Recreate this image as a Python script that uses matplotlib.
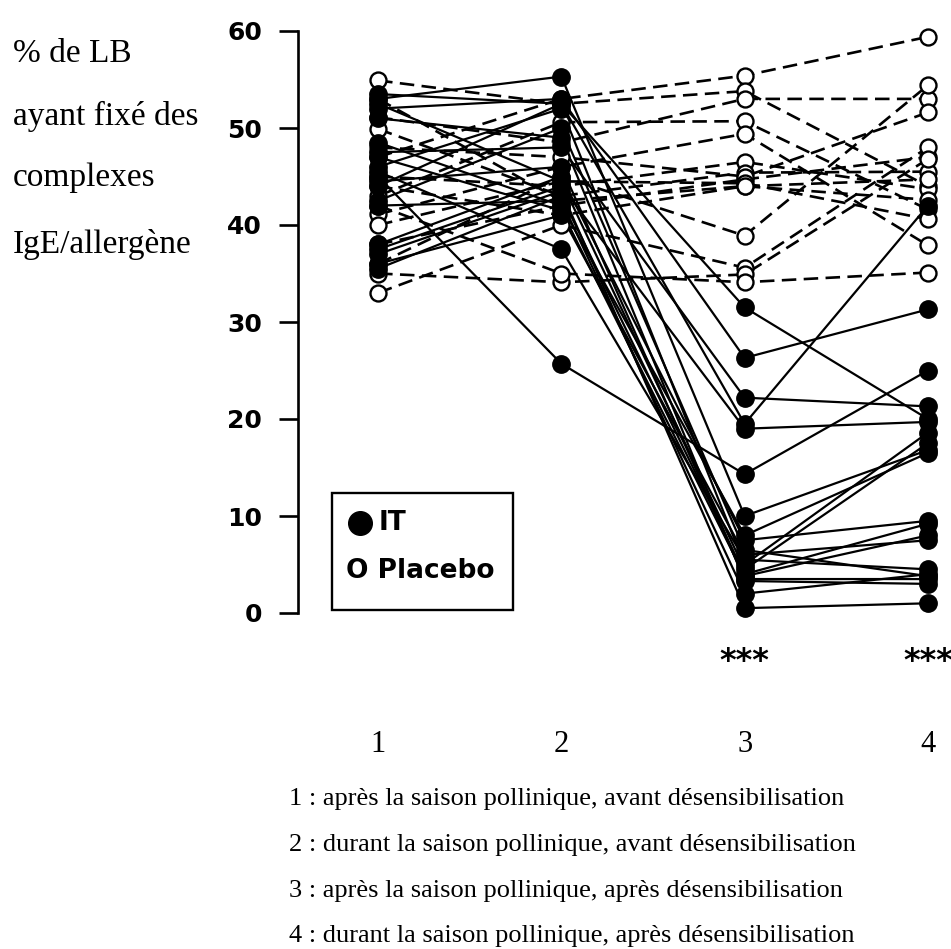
import numpy as np
import matplotlib.pyplot as plt
from matplotlib.patches import Rectangle
from matplotlib.lines import Line2D

# temps de mesure
temps = [1, 2, 3, 4]
etiquettes_temps = ['1', '2', '3', '4']

# IT (traitement) : une liste par patient, valeurs aux temps 1..4
it_t1 = [53.5, 45.0, 52.0, 47.5, 44.0, 37.5, 53.0, 48.5, 38.0, 42.5, 36.0, 45.5, 52.5, 35.5, 47.0, 44.5, 51.0, 42.0, 37.0, 46.0]
it_t2 = [52.5, 25.7, 53.0, 48.0, 52.5, 44.0, 55.3, 42.0, 45.0, 50.0, 41.0, 37.5, 44.5, 43.0, 41.5, 46.0, 49.0, 42.5, 43.5, 52.0]
it_t3 = [31.5, 14.3, 26.3, 22.2, 19.5, 19.0, 10.0, 8.0, 7.5, 6.5, 6.0, 5.5, 4.5, 4.0, 3.8, 3.5, 3.3, 2.0, 0.5, 5.0]
it_t4 = [20.0, 25.0, 31.3, 21.3, 42.0, 19.7, 16.8, 16.5, 9.5, 3.8, 7.5, 4.5, 17.5, 9.2, 8.0, 3.5, 3.0, 4.0, 1.0, 18.6]

# Placebo
pl_t1 = [47.0, 54.9, 51.1, 43.0, 41.1, 45.0, 49.9, 38.0, 44.0, 36.0, 33.0, 35.0, 42.0, 48.0, 40.0, 53.0]
pl_t2 = [53.0, 52.5, 48.5, 50.6, 46.0, 44.0, 43.0, 42.0, 41.0, 45.0, 40.0, 34.1, 35.0, 47.0, 44.5, 42.5]
pl_t3 = [55.4, 53.8, 53.0, 50.7, 49.4, 46.5, 45.4, 44.7, 44.0, 38.9, 35.6, 34.9, 34.1, 45.0, 44.3, 44.0]
pl_t4 = [59.4, 44.0, 53.0, 41.6, 37.9, 43.7, 45.5, 47.0, 42.6, 54.4, 48.0, 46.8, 35.1, 51.6, 40.6, 44.7]

notes = [u"1 : après la saison pollinique, avant désensibilisation",
         u"2 : durant la saison pollinique, avant désensibilisation",
         u"3 : après la saison pollinique, après désensibilisation",
         u"4 : durant la saison pollinique, après désensibilisation"]

titre_y = [u"% de LB", u"ayant fixé des", u"complexes", u"IgE/allergène"]

W, H = 951, 949
fig = plt.figure(figsize=(W / 100.0, H / 100.0), dpi=100)

def fx(px):
  return px / float(W)

def fy(py):
  return 1 - py / float(H)

ax = fig.add_axes([fx(298), fy(613), fx(951) - fx(298), fy(31) - fy(613)])
ax.set_xlim(0.563, 4.126)
ax.set_ylim(0, 60)

it = np.array([it_t1, it_t2, it_t3, it_t4]).T
pl = np.array([pl_t1, pl_t2, pl_t3, pl_t4]).T

for row in pl:
  ax.plot(temps, row, color='k', linewidth=1.9, linestyle=(0, (5.5, 2.8)), clip_on=False, zorder=2)
for row in it:
  ax.plot(temps, row, color='k', linewidth=1.6, linestyle='-', clip_on=False, zorder=2)

for row in pl:
  ax.plot(temps, row, 'o', markersize=11.5, markerfacecolor='white', markeredgecolor='k',
          markeredgewidth=1.7, linestyle='none', clip_on=False, zorder=3)
for row in it:
  ax.plot(temps, row, 'o', markersize=12.5, color='k', linestyle='none', clip_on=False, zorder=4)

for s in ['top', 'right', 'bottom']:
  ax.spines[s].set_visible(False)
ax.spines['left'].set_linewidth(1.9)
ax.set_xticks([])
ax.set_yticks(range(0, 61, 10))
ax.set_yticklabels([str(v) for v in range(0, 61, 10)], fontweight='bold', fontsize=18, family='DejaVu Sans')
ax.tick_params(axis='y', length=14, width=1.9, pad=12)

# *** sous les temps 3 et 4
for t in [3, 4]:
  ax.text(t, -5.0, '***', ha='center', va='center', fontsize=23, fontweight='bold', clip_on=False)

# numeros des temps
for t, lab in zip(temps, etiquettes_temps):
  ax.text(t, -14.3, lab, ha='center', va='baseline', fontsize=22, family='Liberation Serif', clip_on=False)

# legende faite a la main
fig.add_artist(Rectangle((fx(332), fy(610)), fx(513) - fx(332), fy(493) - fy(610),
                         transform=fig.transFigure, fill=False, edgecolor='k', linewidth=1.7))
fig.add_artist(Line2D([fx(360)], [fy(523)], marker='o', markersize=17, color='k',
                      transform=fig.transFigure))
fig.text(fx(379), fy(523), 'IT', ha='left', va='center', fontsize=19, fontweight='bold')
fig.text(fx(346), fy(571), 'O Placebo', ha='left', va='center', fontsize=19, fontweight='bold')

# titre de l'axe y
bases = [62, 125, 186, 253]
for txt, b in zip(titre_y, bases):
  fig.text(fx(13), fy(b), txt, ha='left', va='baseline', fontsize=24, family='Liberation Serif')

bases_notes = [805, 851, 897, 942]
for txt, b in zip(notes, bases_notes):
  fig.text(fx(289), fy(b), txt, ha='left', va='baseline', fontsize=19, family='Liberation Serif')

plt.savefig('out.png', dpi=100)
